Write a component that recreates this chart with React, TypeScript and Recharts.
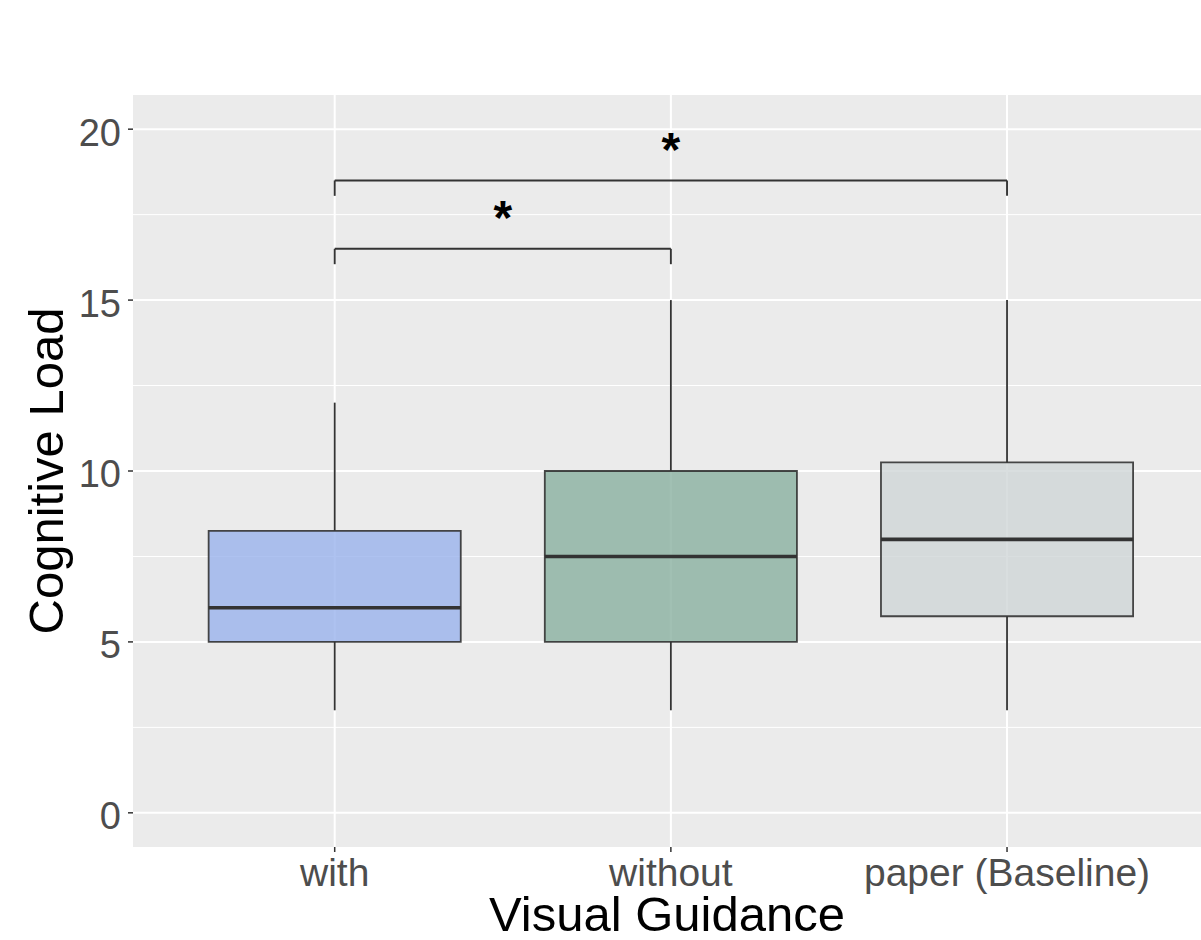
import {
  ComposedChart,
  XAxis,
  YAxis,
  CartesianGrid,
  ReferenceArea,
  ReferenceLine,
  ReferenceDot,
  Scatter,
} from "recharts";

const groups = ["with", "without", "paper (Baseline)"];
const positions = [1, 2, 3];
const whiskerLow = [3, 3, 3];
const q1 = [5, 5, 5.75];
const median = [6, 7.5, 8];
const q3 = [8.25, 10, 10.25];
const whiskerHigh = [12, 15, 15];

const yTicks = [0, 5, 10, 15, 20];
const yMinor = [2.5, 7.5, 12.5, 17.5];

// significance brackets
const compareFrom = [1, 1];
const compareTo = [2, 3];
const bracketY = [16.5, 18.5];
const signif = ["*", "*"];

const FILLS = ["#9AB3EC", "#8AB0A0", "#CFD6D7"];
const INK = "#333333";
const FONT = "'Liberation Sans', Arial, sans-serif";
const BOX_HALF = 0.375;
const TICK_DROP = 0.45;

const points = groups.map((g, i) => ({ x: positions[i], y: median[i], name: g }));

export default function App() {
  return (
    <div style={{ position: "absolute", left: 0, top: 0, fontFamily: FONT, background: "#fff" }}>
      <ComposedChart
        width={1201}
        height={940}
        data={points}
        margin={{ top: 95, right: 0, left: 0, bottom: 0 }}
      >
        <CartesianGrid
          fill="#EBEBEB"
          stroke="#FFFFFF"
          strokeWidth={1}
          vertical={false}
          horizontalValues={yMinor}
        />
        <CartesianGrid
          stroke="#FFFFFF"
          strokeWidth={2}
          horizontalValues={yTicks}
          verticalValues={positions}
        />
        <XAxis
          type="number"
          dataKey="x"
          domain={[0.4, 3.577]}
          allowDataOverflow
          ticks={positions}
          tickFormatter={(v: number) => groups[positions.indexOf(v)] ?? ""}
          axisLine={false}
          tickLine={{ stroke: INK, strokeWidth: 1.5 }}
          tickSize={5}
          tickMargin={6}
          height={93}
          tick={{ fill: "#4D4D4D", fontSize: 39, fontFamily: FONT }}
          label={{
            content: (p: any) => {
              const vb = p.viewBox || {};
              return (
                <text
                  x={vb.x + vb.width / 2}
                  y={vb.y + 84}
                  textAnchor="middle"
                  fill="#000"
                  fontSize={49}
                  fontFamily={FONT}
                >
                  Visual Guidance
                </text>
              );
            },
          }}
        />
        <YAxis
          type="number"
          domain={[-1, 21]}
          allowDataOverflow
          ticks={yTicks}
          axisLine={false}
          tickLine={{ stroke: INK, strokeWidth: 1.5 }}
          tickSize={5}
          tickMargin={7}
          width={133}
          tick={{ fill: "#4D4D4D", fontSize: 38, fontFamily: FONT, dy: 3 }}
          label={{
            content: (p: any) => {
              const vb = p.viewBox || {};
              const cx = 63;
              const cy = vb.y + vb.height / 2;
              return (
                <text
                  x={cx}
                  y={cy}
                  transform={`rotate(-90 ${cx} ${cy})`}
                  textAnchor="middle"
                  fill="#000"
                  fontSize={49}
                  fontFamily={FONT}
                >
                  Cognitive Load
                </text>
              );
            },
          }}
        />

        {/* whiskers */}
        {positions.map((x, i) => (
          <ReferenceLine
            key={`wl-${i}`}
            segment={[{ x, y: whiskerLow[i] }, { x, y: q1[i] }]}
            stroke={INK}
            strokeWidth={1.8}
          />
        ))}
        {positions.map((x, i) => (
          <ReferenceLine
            key={`wh-${i}`}
            segment={[{ x, y: q3[i] }, { x, y: whiskerHigh[i] }]}
            stroke={INK}
            strokeWidth={1.8}
          />
        ))}

        {/* boxes */}
        {positions.map((x, i) => (
          <ReferenceArea
            key={`box-${i}`}
            x1={x - BOX_HALF}
            x2={x + BOX_HALF}
            y1={q1[i]}
            y2={q3[i]}
            fill={FILLS[i]}
            fillOpacity={0.8}
            stroke={INK}
            strokeWidth={1.8}
            strokeOpacity={0.9}
          />
        ))}
        {positions.map((x, i) => (
          <ReferenceLine
            key={`med-${i}`}
            segment={[{ x: x - BOX_HALF, y: median[i] }, { x: x + BOX_HALF, y: median[i] }]}
            stroke={INK}
            strokeWidth={3.6}
          />
        ))}

        {/* significance brackets */}
        {bracketY.map((y, i) => (
          <ReferenceLine
            key={`br-${i}`}
            segment={[{ x: compareFrom[i], y }, { x: compareTo[i], y }]}
            stroke={INK}
            strokeWidth={1.9}
          />
        ))}
        {bracketY.map((y, i) => (
          <ReferenceLine
            key={`brl-${i}`}
            segment={[{ x: compareFrom[i], y: y - TICK_DROP }, { x: compareFrom[i], y }]}
            stroke={INK}
            strokeWidth={1.9}
          />
        ))}
        {bracketY.map((y, i) => (
          <ReferenceLine
            key={`brr-${i}`}
            segment={[{ x: compareTo[i], y: y - TICK_DROP }, { x: compareTo[i], y }]}
            stroke={INK}
            strokeWidth={1.9}
          />
        ))}
        {bracketY.map((y, i) => (
          <ReferenceDot
            key={`sig-${i}`}
            x={(compareFrom[i] + compareTo[i]) / 2}
            y={y + 0.92}
            r={0}
            fill="none"
            stroke="none"
            label={{
              value: signif[i],
              position: "center",
              fill: "#000",
              fontSize: 48,
              fontWeight: 600,
              fontFamily: FONT,
            }}
          />
        ))}

        <Scatter
          dataKey="y"
          isAnimationActive={false}
          shape={() => <g />}
          legendType="none"
        />
      </ComposedChart>
    </div>
  );
}
